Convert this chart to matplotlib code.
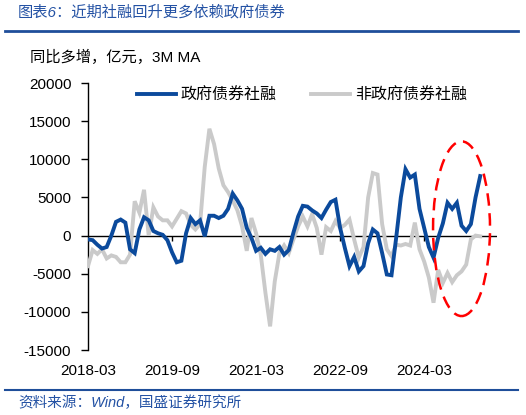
import numpy as np
import pandas as pd
import matplotlib
matplotlib.use('Agg')
import matplotlib.pyplot as plt
from matplotlib.lines import Line2D
from matplotlib.patches import Ellipse

plt.rcParams['font.family'] = ['Liberation Sans', 'Noto Sans CJK SC', 'DejaVu Sans']
plt.rcParams['axes.unicode_minus'] = False

# monthly, 2018-03 .. 2025-03, 3M moving average of y/y change (100 mn yuan)
months = pd.date_range('2018-03-01', periods=85, freq='MS').strftime('%Y-%m').tolist()

gov_bond = [-500, -600, -1200, -1700, -1500, 0, 1800, 2100, 1700, -1800,
            -2300, 800, 2400, 2000, 600, 300, 100, -600, -2200, -3500,
            -3300, 300, 2300, 1500, 2000, -100, 2600, 2600, 2300, 2600,
            3500, 5500, 4600, 3500, 1000, -300, -2000, -1600, -2400, -1800,
            -2000, -1500, -2500, -1900, 400, 2500, 3900, 3800, 3300, 2900,
            2300, 3400, 4400, 4700, 1000, -1600, -4000, -2800, -4700, -4000,
            -1000, 800, 300, -2300, -5100, -5200, -300, 5000, 8700, 7600,
            8000, 3500, 1000, -1500, -2900, -300, 1600, 4300, 3500, 4300,
            1300, 600, 1500, 5000, 7800]

non_gov = [-4000, -1900, -2400, -1800, -3000, -2600, -2800, -3500, -3500, -2500,
           4500, 3000, 6000, 0, 3700, 2500, 2000, 2000, 1200, 2200,
           3200, 2900, 1400, 800, 1500, 9000, 14000, 12000, 8800, 6600,
           5700, 4600, 3300, 1200, -2000, 2300, 300, -2500, -7500, -11900,
           -6000, -2300, -1300, -2300, -500, 1200, 2500, 1200, 2800, 1000,
           -2500, 1100, 600, 1900, 1000, 1400, 2100, -500, -2900, -1500,
           5000, 8200, 8000, 1500, -1800, -2700, -1200, -1300, -1100, -1300,
           1700, -1800, -3400, -5500, -8800, -4500, -6200, -4900, -6100, -5200,
           -4700, -3800, -500, 0, -100]

tick_idx = [0, 18, 36, 54, 72]
tick_labels = [months[i] for i in tick_idx]
y_ticks = [20000, 15000, 10000, 5000, 0, -5000, -10000, -15000]

BLUE = '#0B4A9C'
GRAY = '#CACACA'
TITLE_BLUE = '#2452A4'

fig = plt.figure(figsize=(5.26, 4.15), dpi=100)
ax = fig.add_axes([0.1673, 0.1566, 0.7776, 0.6434])

x = np.arange(len(months))
ax.plot(x, gov_bond, color=BLUE, lw=2.8, label='政府债券社融', solid_joinstyle='miter', zorder=4)
ax.plot(x, non_gov, color=GRAY, lw=2.8, label='非政府债券社融', solid_joinstyle='miter', zorder=3)

# zero line with small category ticks
ax.axhline(0, color='black', lw=1.0, zorder=2)
ax.plot(tick_idx[1:], [0] * len(tick_idx[1:]), ls='none', marker=3, ms=3.5,
        mew=1.0, color='black', zorder=2)

# highlight of recent months
ax.add_patch(Ellipse((80.0, 900), 12.2, 22900, fill=False, ec='#FF0000',
                     lw=1.8, ls=(0, (5, 3)), zorder=5))

ax.set_xlim(0, 87.6)
ax.set_ylim(-15000, 20000)
ax.set_yticks(y_ticks)
ax.set_yticklabels([str(v) for v in y_ticks])
ax.set_xticks(tick_idx)
ax.set_xticklabels(tick_labels)

for s in ['top', 'right', 'bottom']:
    ax.spines[s].set_visible(False)
ax.spines['left'].set_linewidth(1.0)
ax.tick_params(axis='y', direction='out', length=5, width=1.0, pad=7, labelsize=11)
ax.tick_params(axis='x', length=0, pad=10, labelsize=11)

ax.legend(loc='center', bbox_to_anchor=(0.523, 0.955), ncol=2, frameon=False,
          fontsize=11.5, handlelength=2.4, handletextpad=0.3, columnspacing=2.2)

fig.text(0.034, 0.971, '图表6：近期社融回升更多依赖政府债券', color=TITLE_BLUE,
         fontsize=11, style='italic', va='center', ha='left')
fig.add_artist(Line2D([0.01, 0.985], [0.925, 0.925], color='#1F4E9A', lw=2.0))
fig.text(0.057, 0.863, '同比多增，亿元，3M MA', fontsize=11, va='center', ha='left')
fig.add_artist(Line2D([0.01, 0.985], [0.060, 0.060], color='#1F4E9A', lw=1.5))
fig.text(0.034, 0.029, '资料来源：Wind，国盛证券研究所', color=TITLE_BLUE,
         fontsize=10.5, style='italic', va='center', ha='left')

fig.savefig('out.png', dpi=100)
